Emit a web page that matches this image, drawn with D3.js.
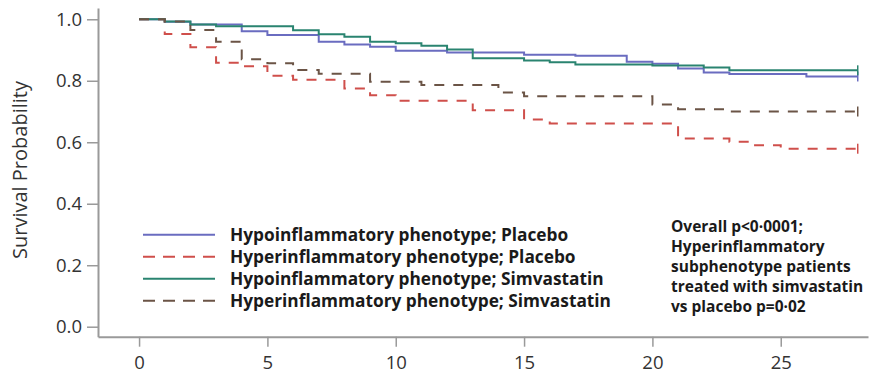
<!DOCTYPE html>
<html lang="en">
<head>
<meta charset="UTF-8">
<title>Survival Probability by Phenotype</title>
<style>
    body { margin: 0; background: #fff; }
    svg { display: block; }
    .tick text { font-family: "Open Sans", sans-serif; font-size: 18.5px; fill: #333; }
    .legend text, .note text { font-family: "Open Sans", sans-serif; font-weight: bold; fill: #1a1a1a; }
</style>
</head>
<body>
<svg id="chart" width="872" height="379"></svg>
<script src="https://cdn.jsdelivr.net/npm/d3@7"></script>
<script>
    // step times (days) and survival estimates
    const followUp = 28;
    const hypoPlaceboT = [0, 1, 2, 4, 5, 7, 8, 9, 10, 12, 15, 17, 19, 20, 21, 22, 23, 26];
    const hypoPlaceboS = [1.0, 0.992, 0.983, 0.961, 0.949, 0.927, 0.918, 0.911, 0.898, 0.892, 0.885, 0.881, 0.862, 0.855, 0.840, 0.827, 0.822, 0.814];
    const hyperPlaceboT = [0, 1, 2, 3, 4, 5, 6, 8, 9, 10, 13, 15, 16, 21, 23, 24, 25];
    const hyperPlaceboS = [1.0, 0.952, 0.909, 0.859, 0.847, 0.816, 0.803, 0.775, 0.753, 0.735, 0.704, 0.674, 0.661, 0.612, 0.602, 0.590, 0.579];
    const hypoSimvaT = [0, 1, 2, 3, 6, 7, 8, 9, 10, 11, 12, 13, 15, 16, 17, 20, 22, 23];
    const hypoSimvaS = [1.0, 0.993, 0.983, 0.977, 0.964, 0.951, 0.943, 0.927, 0.922, 0.914, 0.902, 0.873, 0.866, 0.860, 0.853, 0.850, 0.843, 0.834];
    const hyperSimvaT = [0, 1, 2, 3, 4, 5, 6, 7, 9, 11, 14, 15, 20, 21, 23];
    const hyperSimvaS = [1.0, 0.993, 0.965, 0.927, 0.870, 0.857, 0.835, 0.823, 0.797, 0.786, 0.762, 0.750, 0.723, 0.707, 0.700];

    const xTicks = [0, 5, 10, 15, 20, 25];
    const yTicks = [0, 0.2, 0.4, 0.6, 0.8, 1.0];

    const seriesNames = [
        'Hypoinflammatory phenotype; Placebo',
        'Hyperinflammatory phenotype; Placebo',
        'Hypoinflammatory phenotype; Simvastatin',
        'Hyperinflammatory phenotype; Simvastatin'
    ];
    const noteLines = [
        'Overall p<0·0001;',
        'Hyperinflammatory',
        'subphenotype patients',
        'treated with simvastatin',
        'vs placebo p=0·02'
    ];

    const series = [
        { name: seriesNames[0], t: hypoPlaceboT, s: hypoPlaceboS, color: '#6a6cc0', dash: null },
        { name: seriesNames[1], t: hyperPlaceboT, s: hyperPlaceboS, color: '#cf4f4b', dash: '10,9' },
        { name: seriesNames[2], t: hypoSimvaT, s: hypoSimvaS, color: '#2a8470', dash: null },
        { name: seriesNames[3], t: hyperSimvaT, s: hyperSimvaS, color: '#6b5446', dash: '10,9' }
    ];

    const svg = d3.select('#chart');

    const x = d3.scaleLinear().domain([-1.6, 28.4]).range([98, 868]);
    const y = d3.scaleLinear().domain([-0.0325, 1.0367]).range([336.7, 8]);

    // axes
    const xAxis = svg.append('g')
        .attr('transform', `translate(0,${y.range()[0]})`)
        .call(d3.axisBottom(x).tickValues(xTicks).tickSize(10).tickPadding(9).tickSizeOuter(0));
    const yAxis = svg.append('g')
        .attr('transform', `translate(${x.range()[0]},0)`)
        .call(d3.axisLeft(y).tickValues(yTicks).tickFormat(d3.format('.1f')).tickSize(11).tickPadding(5).tickSizeOuter(0));
    [xAxis, yAxis].forEach(a => {
        a.select('.domain').attr('stroke', '#9a9a9a').attr('stroke-width', 2);
        a.selectAll('.tick line').attr('stroke', '#9a9a9a').attr('stroke-width', 1.5);
    });

    svg.append('text')
        .attr('transform', 'translate(27,170) rotate(-90)')
        .attr('text-anchor', 'middle')
        .style('font-family', '"Open Sans", sans-serif')
        .style('font-size', '20px')
        .style('fill', '#333')
        .text('Survival Probability');

    // survival curves
    const line = d3.line()
        .x(d => x(d[0]))
        .y(d => y(d[1]))
        .curve(d3.curveStepAfter);

    series.forEach(sr => {
        const pts = sr.t.map((t, i) => [t, sr.s[i]]);
        pts.push([followUp, sr.s[sr.s.length - 1]]);
        svg.append('path')
            .datum(pts)
            .attr('d', line)
            .attr('fill', 'none')
            .attr('stroke', sr.color)
            .attr('stroke-width', 2)
            .attr('stroke-dasharray', sr.dash);
        // censor mark at end of follow-up
        const last = pts[pts.length - 1];
        svg.append('line')
            .attr('x1', x(last[0])).attr('x2', x(last[0]))
            .attr('y1', y(last[1]) - 5).attr('y2', y(last[1]) + 5)
            .attr('stroke', sr.color)
            .attr('stroke-width', 1.5);
    });

    // legend
    const legend = svg.append('g').attr('class', 'legend');
    const legendRows = legend.selectAll('g')
        .data(series)
        .enter()
        .append('g')
        .attr('transform', (d, i) => `translate(143,${234.7 + i * 22})`);
    legendRows.append('line')
        .attr('x1', 0).attr('x2', 72)
        .attr('stroke', d => d.color)
        .attr('stroke-width', 2)
        .attr('stroke-dasharray', d => d.dash ? '12,8' : null);
    legendRows.append('text')
        .attr('x', 87)
        .attr('dy', '0.36em')
        .style('font-size', '17.3px')
        .text(d => d.name);

    // p-value note
    svg.append('g').attr('class', 'note')
        .selectAll('text')
        .data(noteLines)
        .enter()
        .append('text')
        .attr('x', 671)
        .attr('y', (d, i) => 232 + i * 20)
        .style('font-size', '15.5px')
        .text(d => d);
</script>
</body>
</html>
